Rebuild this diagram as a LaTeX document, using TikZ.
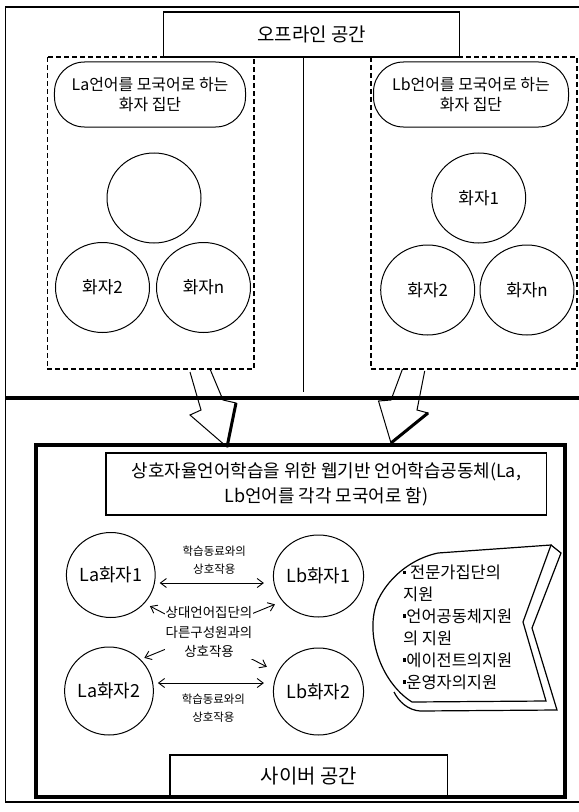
\documentclass[tikz,border=0pt]{standalone}
\usepackage{fontspec}
\setmainfont{Noto Sans CJK KR}
\usetikzlibrary{shapes.geometric,arrows.meta}
\newcommand{\sqb}{\raisebox{0.3em}{\rule{0.2em}{0.2em}}}
\newcommand{\fs}[2]{\fontsize{#1}{#2}\selectfont}

\begin{document}
\begin{tikzpicture}[x=1bp,y=-1bp,>={Straight Barb[length=6bp,width=9bp]},
    spk/.style={draw,ellipse,line width=1bp,minimum width=94bp,minimum height=90bp,inner sep=0pt,font=\fs{17}{20}},
    grp/.style={draw,rectangle,rounded corners=30bp,line width=1bp,minimum width=191bp,minimum height=65bp,align=center,font=\fs{16}{21}},
    lrn/.style={draw,ellipse,line width=1bp,minimum width=87bp,minimum height=85bp,inner sep=0pt,font=\fs{18}{20}},
    lbl/.style={align=center,inner sep=1bp,font=\fs{11.5}{18}}]
  \useasboundingbox (0,0) rectangle (579,812);

  % frame and the line between the two spaces
  \draw[line width=1.5bp] (579,7) -- (5.5,7) -- (5.5,802) -- (579,802);
  \draw[line width=3.5bp] (5.5,398) -- (579,398);

  % offline space
  \node[draw,line width=1.3bp,minimum width=296bp,minimum height=45bp,font=\fs{19}{22}] (offline) at (311.7,34.5) {오프라인 공간};
  \coordinate (divend) at (303.5,392);
  \draw[line width=1bp] (offline.south -| divend) -- (divend);

  \draw[line width=1.3bp,dash pattern=on 5bp off 3bp] (47.3,57) rectangle (254,369);
  \draw[line width=1.3bp,dash pattern=on 5bp off 3bp] (371,57) rectangle (577,369);

  \node[grp] (lagroup) at (150,94.5) {La언어를 모국어로 하는\\화자 집단};
  \node[grp,minimum width=195bp] (lbgroup) at (471,94.5) {Lb언어를 모국어로 하는\\화자 집단};

  \foreach \nm/\x/\y/\txt in {lspk1/154/198/{},lspk2/102.5/287.5/화자2,lspkn/203.5/287.5/화자n,
                             rspk1/478.7/198/화자1,rspk2/427.7/290/화자2,rspkn/527/290/화자n} {
    \node[spk] (\nm) at (\x,\y) {\txt};
  }

  % block arrows down into the cyber space
  \draw[line width=1bp] (190,372) -- (201,410) -- (190,415) -- (227,447) -- (236,403) -- (223,400) -- (210,369);
  \draw[line width=3bp] (236,403) -- (227,447);
  \draw[line width=1bp] (402.5,369) -- (391,400) -- (378.5,401) -- (391,443) -- (428,413) -- (417,410) -- (424.7,371);
  \draw[line width=3bp] (428,413) -- (391,443);

  % cyber space
  \node[draw,line width=1.2bp,minimum width=277.6bp,minimum height=42bp,font=\fs{20}{22}] (cyberlabel) at (308.8,776) {사이버 공간};
  \draw[line width=3.5bp] (36,445) rectangle (565,797);
  \node[draw,line width=1.2bp,minimum width=440.6bp,minimum height=62bp,align=center,font=\fs{18}{25}] (cybertitle) at (326.3,484)
    {상호자율언어학습을 위한 웹기반 언어학습공동체(La,\\Lb언어를 각각 모국어로 함)};

  \node[lrn] (la1) at (110.8,575) {La화자1};
  \node[lrn,minimum width=90bp,minimum height=82bp] (lb1) at (318.5,576) {Lb화자1};
  \node[lrn,minimum height=88bp] (la2) at (109,691) {La화자2};
  \node[lrn,minimum width=90bp,minimum height=87bp] (lb2) at (318.5,691.5) {Lb화자2};

  \draw[<->,line width=0.9bp,shorten <=4bp,shorten >=9bp] ([yshift=-8bp]la1.east) -- ([yshift=-8bp]la1.east -| lb1.west)
    node[midway,above=7bp,lbl] {학습동료와의\\상호작용};
  \draw[<->,line width=0.9bp,shorten <=4bp,shorten >=9bp] ([yshift=8bp]la2.east) -- ([yshift=8bp]la2.east -| lb2.west)
    node[midway,below=10bp,lbl] {학습동료와의\\상호작용};
  \draw[<->,line width=0.9bp,shorten <=6bp,shorten >=12bp] (la1.-40) -- (lb2.155);
  \draw[<->,line width=0.9bp,shorten <=8bp,shorten >=4bp] (lb1.-145) -- (la2.45);
  \node[lbl,fill=white,font=\fs{13.5}{19.5}] (crosslbl) at (209,632) {상대언어집단의\\다른구성원과의\\상호작용};

  % support callout
  \draw[line width=1.2bp] (438,553) -- (551,545) -- (523,622) -- (546,701) -- (412,702)
    .. controls (380,682) and (364,632) .. (378,600) .. controls (390,575) and (414,558) .. (438,553);
  \draw[line width=1.2bp] (551,545) -- (561,553) -- (532,628) -- (557,710) -- (420,711)
    .. controls (408,710) and (399,702) .. (394,692);
  \node[anchor=west,align=left,inner sep=0pt,font=\fs{16.5}{22}] (support) at (403,627.5)
    {\sqb\ 전문가집단의\\지원\\\sqb 언어공동체지원\\의 지원\\\sqb 에이전트의지원\\\sqb 운영자의지원};
\end{tikzpicture}
\end{document}
